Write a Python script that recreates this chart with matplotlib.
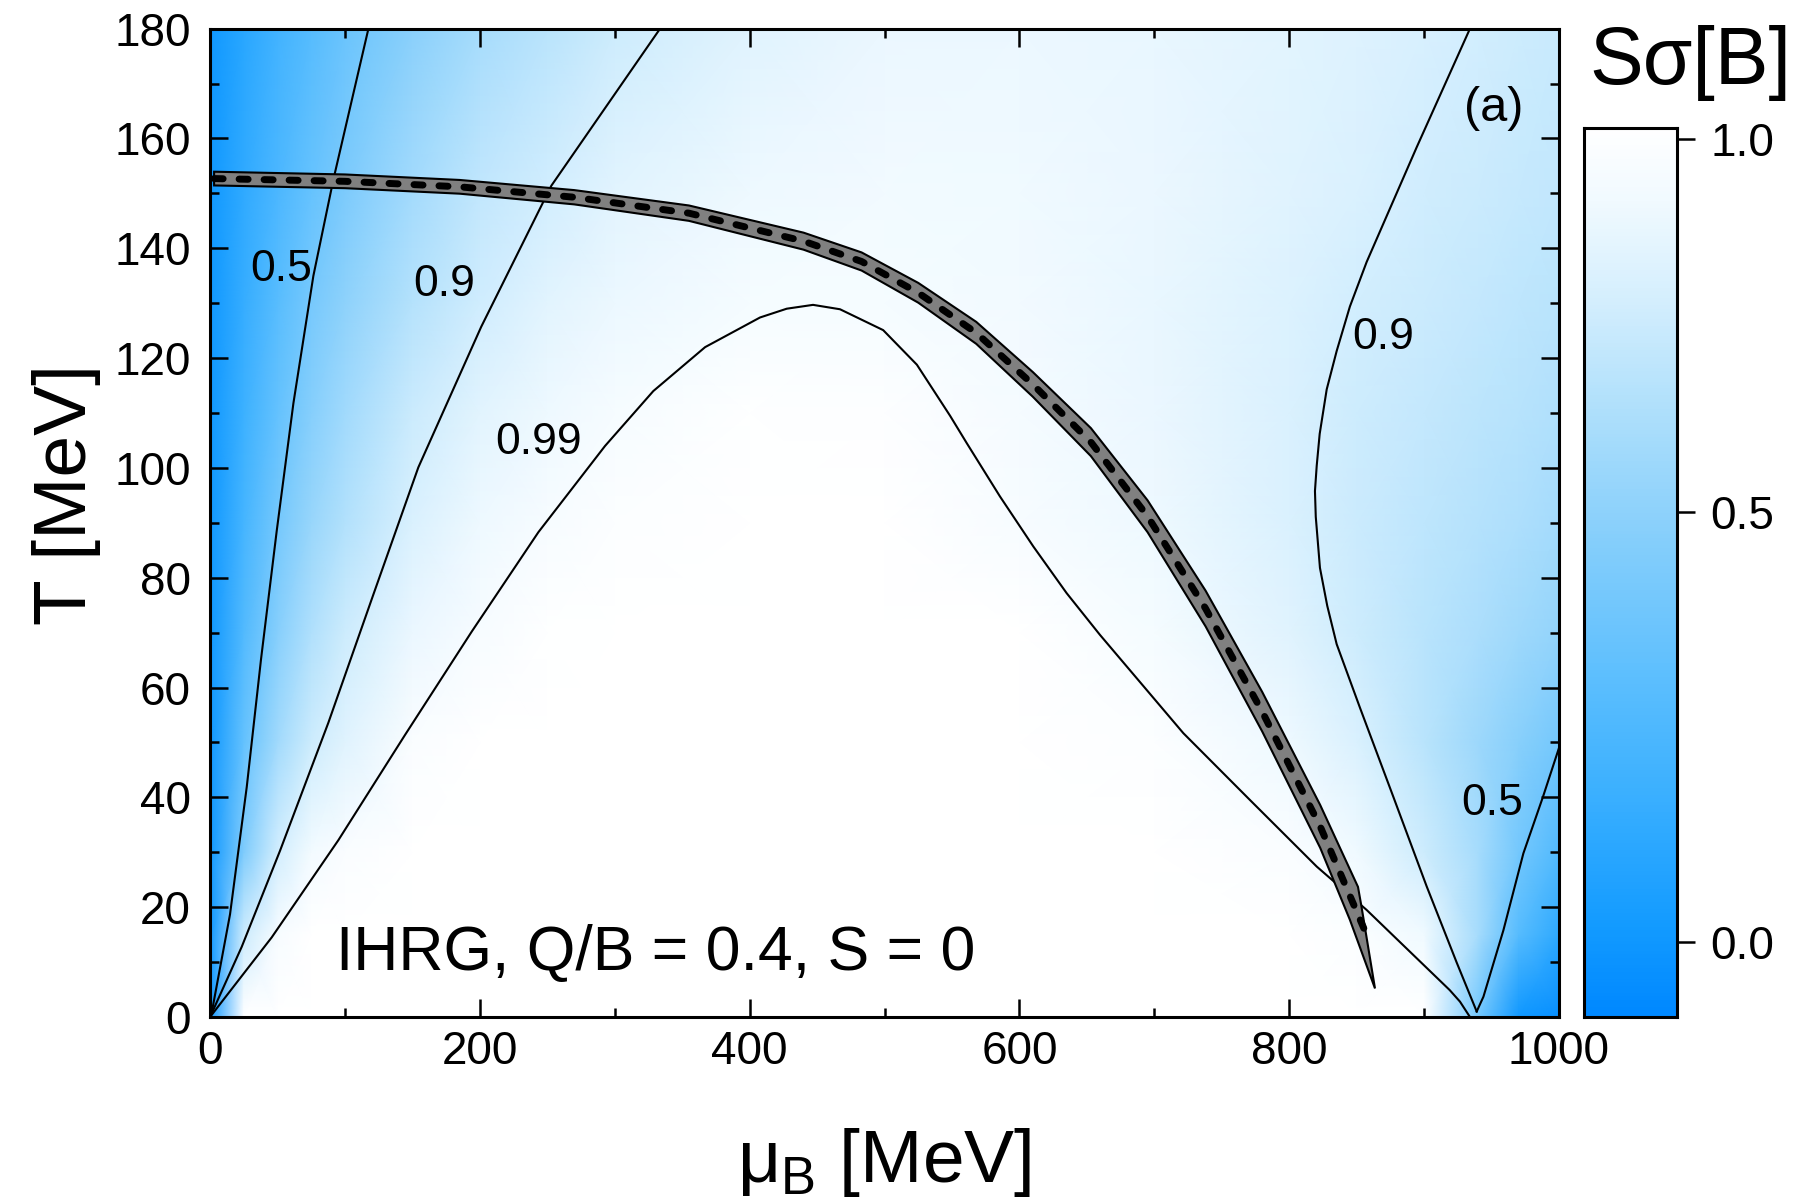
import numpy as np
import matplotlib
matplotlib.use('Agg')
import matplotlib.pyplot as plt
from matplotlib.colors import LinearSegmentedColormap

plt.rcParams['font.family'] = ['Liberation Sans', 'DejaVu Sans']
plt.rcParams['mathtext.fontset'] = 'custom'
plt.rcParams['mathtext.rm'] = 'Liberation Sans'

# S_sigma[B] on a coarse (mu_B, T) grid
mu_grid = [0, 25, 50, 75, 100, 150, 200, 250, 300, 400, 500, 600, 700, 800, 850, 900, 940, 970, 1000]
T_grid = [0, 15, 30, 50, 70, 90, 110, 130, 150, 180]
s_T0 = [0, 1, 1, 1, 1, 1, 1, 1, 1, 1, 1, 1, 1, 1, 1, 1, 0.5, 0.0, -0.05]
s_T15 = [0, 0.88, 0.99, 1, 1, 1, 1, 1, 1, 1, 1, 1, 1, 1, 0.995, 0.97, 0.72, 0.35, 0.15]
s_T30 = [0, 0.55, 0.9, 0.978, 0.993, 1, 1, 1, 1, 1, 1, 1, 1, 0.993, 0.97, 0.88, 0.72, 0.5, 0.33]
s_T50 = [0, 0.42, 0.7, 0.88, 0.93, 0.993, 1, 1, 1, 1, 1, 1, 0.996, 0.965, 0.915, 0.8, 0.68, 0.59, 0.5]
s_T70 = [0, 0.33, 0.58, 0.76, 0.88, 0.955, 0.991, 0.998, 1, 1, 1, 1, 0.985, 0.93, 0.88, 0.8, 0.74, 0.69, 0.64]
s_T90 = [0, 0.27, 0.5, 0.66, 0.77, 0.915, 0.965, 0.99, 0.996, 1, 1, 0.99, 0.965, 0.915, 0.87, 0.82, 0.78, 0.75, 0.71]
s_T110 = [0, 0.22, 0.42, 0.58, 0.7, 0.87, 0.935, 0.965, 0.988, 0.998, 0.997, 0.983, 0.955, 0.915, 0.88, 0.84, 0.81, 0.79, 0.76]
s_T130 = [0, 0.19, 0.36, 0.51, 0.62, 0.78, 0.89, 0.935, 0.96, 0.985, 0.987, 0.975, 0.95, 0.92, 0.9, 0.87, 0.84, 0.82, 0.8]
s_T150 = [0, 0.16, 0.3, 0.43, 0.54, 0.71, 0.83, 0.9, 0.935, 0.965, 0.975, 0.97, 0.955, 0.93, 0.915, 0.89, 0.87, 0.85, 0.83]
s_T180 = [0, 0.13, 0.25, 0.35, 0.45, 0.6, 0.72, 0.8, 0.88, 0.93, 0.955, 0.96, 0.95, 0.935, 0.925, 0.91, 0.898, 0.88, 0.86]

# contour lines
c05_left_mu = [0, 1, 14.8, 27.2, 37.8, 49.4, 61.8, 76.6, 91.4, 117.4]
c05_left_T = [0, 0.5, 18.7, 41.9, 65.2, 88.5, 111.8, 135, 152.5, 180]
c09_left_mu = [0, 23.5, 51.9, 87.7, 121, 154.4, 201, 253, 333.6]
c09_left_T = [0, 12.8, 30.3, 53.6, 76.9, 100.1, 125.7, 151.4, 180]
c099_mu = [0, 11, 45.7, 95.1, 144.6, 194, 243.4, 292.8, 328.6, 367, 407.7, 427.5, 447, 467,
           499, 524, 548.6, 561, 585.6, 610.3, 635, 659.7, 721.5, 771, 820.4, 857.4, 919, 926.6, 934]
c099_T = [0, 3.5, 14.5, 32.2, 51.4, 70.2, 88.3, 104.0, 114.0, 122.0, 127.4, 129.0, 129.7, 128.9,
          125.1, 118.8, 109.5, 104.5, 94.8, 85.7, 77.2, 69.6, 51.7, 39.5, 27.4, 19.5, 4.9, 2.8, 0]
c09_right_mu = [939, 924.2, 901.9, 877.2, 852.5, 835.2, 828.2, 822.8, 819.7, 819.1, 820.4, 822.6,
                827.8, 835.2, 845, 857.4, 894.5, 934]
c09_right_T = [1, 9.9, 23.8, 40.1, 56.3, 67.9, 74.9, 81.8, 91.1, 95.8, 100.4, 106.2,
               114.3, 121.3, 129.4, 137.5, 158.4, 180]
c05_right_mu = [939, 944, 958.8, 973.6, 988, 1000]
c05_right_T = [1, 3.7, 15.8, 29.8, 40, 49]

# chemical freeze-out line, half width of its band (in T), and the band's tip
fo_mu = [3, 100, 185, 270, 355, 440, 483, 525, 568, 610, 653, 695, 738, 780, 823, 857]
fo_T = [152.7, 152.2, 151.2, 149.3, 146.4, 141.3, 137.6, 131.9, 124.6, 115.2, 104.7, 91.2, 74.4, 55.6, 34.7, 15.2]
fo_hw = [1.25, 1.25, 1.25, 1.3, 1.4, 1.55, 1.65, 1.8, 2.0, 2.25, 2.55, 2.9, 3.25, 3.6, 3.9]
tip_up_mu = [851, 853.6, 863.6]
tip_up_T = [23.7, 20.1, 5.2]
tip_lo_mu = [845, 863.6]
tip_lo_T = [17.7, 5.2]

# colour scale: value -> position on the colour bar, and shade used in the map
cb_values = [-0.087, 0.0, 0.5, 1.0, 1.014]
cb_pos = [0.0, 0.0845, 0.568, 0.988, 1.0]
map_values = [-0.087, 0.0, 0.5, 0.9, 0.99, 1.0]
map_pos = [0.0, 0.085, 0.47, 0.8, 0.95, 1.0]
cmap = LinearSegmentedColormap.from_list('bw', [
    (0.0, '#0088FF'), (0.1, '#139BFF'), (0.25, '#3BB0FF'), (0.4, '#62C1FE'),
    (0.568, '#8ED2FB'), (0.7, '#B4E2FC'), (0.82, '#D8F0FE'), (0.92, '#F1FAFF'), (1.0, '#FFFFFF')])

fig = plt.figure(figsize=(18, 12), dpi=100)
ax = fig.add_axes([0.1167, 0.1525, 0.7494, 0.8236])
cax = fig.add_axes([0.880, 0.1525, 0.0517, 0.7405])

S = np.array([s_T0, s_T15, s_T30, s_T50, s_T70, s_T90, s_T110, s_T130, s_T150, s_T180])
ax.pcolormesh(mu_grid, T_grid, np.interp(S, map_values, map_pos), cmap=cmap,
              vmin=0, vmax=1, shading='gouraud', zorder=0)

for m, t in [(c05_left_mu, c05_left_T), (c09_left_mu, c09_left_T), (c099_mu, c099_T),
             (c09_right_mu, c09_right_T), (c05_right_mu, c05_right_T)]:
    ax.plot(m, t, color='k', lw=1.5, zorder=2)

n = len(fo_hw)
up_mu = np.r_[fo_mu[:n], tip_up_mu]
up_T = np.r_[np.array(fo_T[:n]) + fo_hw, tip_up_T]
lo_mu = np.r_[fo_mu[:n], tip_lo_mu]
lo_T = np.r_[np.array(fo_T[:n]) - fo_hw, tip_lo_T]
ax.fill(np.r_[up_mu, lo_mu[::-1]], np.r_[up_T, lo_T[::-1]],
        facecolor='#808080', edgecolor='k', lw=1.5, zorder=3)
ax.plot(fo_mu, fo_T, color='k', lw=5, ls=(0, (1.3, 2.3)), dash_capstyle='round', zorder=4)

# labels
ax.text(52.8, 136.1, '0.5', fontsize=32, ha='center', va='center')
ax.text(173.6, 133.4, '0.9', fontsize=32, ha='center', va='center')
ax.text(243.4, 104.7, '0.99', fontsize=32, ha='center', va='center')
ax.text(869.8, 123.8, '0.9', fontsize=32, ha='center', va='center')
ax.text(950.6, 38.8, '0.5', fontsize=32, ha='center', va='center')
ax.text(951.5, 165.4, '(a)', fontsize=35, ha='center', va='center')
ax.text(93.6, 8.6, 'IHRG, Q/B = 0.4, S = 0', fontsize=45, ha='left', va='baseline')

ax.set_xlim(0, 1000)
ax.set_ylim(0, 180)
ax.set_xticks(range(0, 1001, 200))
ax.set_xticks(range(100, 1000, 200), minor=True)
ax.set_yticks(range(0, 181, 20))
ax.set_yticks(range(10, 180, 20), minor=True)
ax.tick_params(which='both', direction='in', top=True, right=True, width=1.8)
ax.tick_params(which='major', length=13, labelsize=33)
ax.tick_params(which='minor', length=6.5)
ax.tick_params(axis='x', which='major', pad=9)
ax.tick_params(axis='y', which='major', pad=14)
for sp in ax.spines.values():
    sp.set_linewidth(2.2)

ax.set_xlabel('μ$_\\mathregular{B}$ [MeV]', fontsize=54)
ax.xaxis.label.set_va('baseline')
ax.xaxis.set_label_coords(0.5, -0.167)
ax.set_ylabel('T [MeV]', fontsize=54)
ax.yaxis.label.set_va('baseline')
ax.yaxis.set_label_coords(-0.092, 0.529)

# colour bar
cax.imshow(np.linspace(0, 1, 256).reshape(-1, 1), cmap=cmap, origin='lower',
           aspect='auto', extent=[0, 1, 0, 1])
cax.set_xticks([])
cax.yaxis.tick_right()
cax.set_yticks(cb_pos[1:4])
cax.set_yticklabels(['0.0', '0.5', '1.0'])
cax.tick_params(axis='y', direction='out', length=13, width=1.8, labelsize=33, pad=11)
for sp in cax.spines.values():
    sp.set_linewidth(2.2)
fig.text(0.883, 0.93, 'Sσ[B]', fontsize=58, ha='left', va='baseline')

fig.savefig('out.png', dpi=100)
